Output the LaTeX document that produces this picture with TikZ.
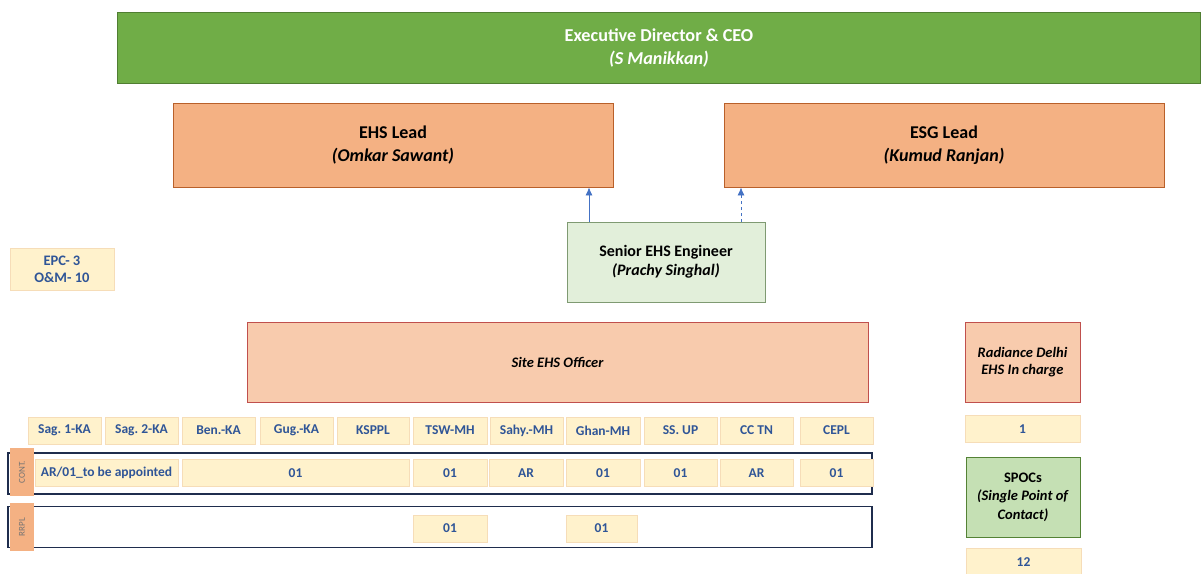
\documentclass[tikz,border=0pt]{standalone}
\usepackage{fontspec}
\setmainfont{Carlito}
\frenchspacing
\usetikzlibrary{arrows.meta}
\definecolor{ceogreen}{HTML}{70AD47}
\definecolor{ceoline}{HTML}{507E32}
\definecolor{leadfill}{HTML}{F4B183}
\definecolor{leadline}{HTML}{B9602A}
\definecolor{sitefill}{HTML}{F8CBAD}
\definecolor{siteline}{HTML}{C0504D}
\definecolor{engfill}{HTML}{E2EFDA}
\definecolor{engline}{HTML}{7F9A72}
\definecolor{spocfill}{HTML}{C5E0B4}
\definecolor{spocline}{HTML}{548235}
\definecolor{cellfill}{HTML}{FFF2CC}
\definecolor{cellline}{HTML}{F6DDB8}
\definecolor{celltext}{HTML}{2F5597}
\definecolor{rowline}{HTML}{1F2D4D}
\definecolor{arrowblue}{HTML}{4472C4}
\tikzset{
  box/.style={rectangle,inner sep=0pt,align=center,line width=0.8pt},
  cell/.style={box,fill=cellfill,draw=cellline,text=celltext,
    font=\fontsize{13.5}{16}\selectfont\bfseries,minimum height=27pt},
  lead/.style={box,fill=leadfill,draw=leadline,
    font=\fontsize{18}{23}\selectfont\bfseries,minimum width=440pt,minimum height=84pt},
  site/.style={box,fill=sitefill,draw=siteline,
    font=\fontsize{14.5}{17}\selectfont\bfseries\itshape,minimum height=80pt},
  rowframe/.style={rectangle,draw=rowline,line width=1.6pt,minimum width=864pt,minimum height=41pt},
  rowtab/.style={box,fill=leadfill,minimum width=48pt,minimum height=24pt,
    text=black!55,font=\fontsize{9}{10}\selectfont,rotate=90},
  up/.style={-{Latex[length=8pt,width=7pt]},arrowblue,line width=0.8pt}
}
\begin{document}
\begin{tikzpicture}[x=1pt,y=-1pt]
  \useasboundingbox (0,0) rectangle (1204,573);

  % top of the chart
  \node[box,fill=ceogreen,draw=ceoline,text=white,font=\fontsize{18.2}{23}\selectfont\bfseries,
    minimum width=1083pt,minimum height=71pt] (ceo) at (659,47.5)
    {Executive Director \& CEO\\ \textit{(S Manikkan)}};
  \node[lead] (ehs) at (393,145) {EHS Lead\\ \textit{(Omkar Sawant)}};
  \node[lead] (esg) at (944,145) {ESG Lead\\ \textit{(Kumud Ranjan)}};
  \node[box,fill=engfill,draw=engline,font=\fontsize{16}{19}\selectfont\bfseries,
    minimum width=198pt,minimum height=80pt] (eng) at (666,262)
    {Senior EHS Engineer\\ \textit{(Prachy Singhal)}};

  \coordinate (engl) at (589,222);
  \coordinate (engr) at (741,222);
  \draw[up] (engl) -- (engl |- ehs.south);
  \draw[up,dashed] (engr) -- (engr |- esg.south);

  \node[cell,minimum width=104pt,minimum height=42pt,font=\fontsize{14.5}{17}\selectfont\bfseries]
    (epc) at (62,269) {EPC- 3\\ O\&M- 10};

  % site level
  \node[site,minimum width=621pt] (officer) at (557.5,362) {Site EHS Officer};
  \node[site,minimum width=115pt] (delhi) at (1022.5,362) {Radiance Delhi\\ EHS In charge};
  \node[cell,minimum width=115pt] (delhin) at (1022.5,429) {1};
  \node[box,fill=spocfill,draw=spocline,font=\fontsize{14.5}{18.5}\selectfont\bfseries,
    minimum width=114pt,minimum height=80pt] (spoc) at (1023,497)
    {SPOCs\\ \textit{(Single Point of}\\ \textit{Contact)}};
  \node[cell,minimum width=115pt] (spocn) at (1023.5,562) {12};

  % plant names
  \node[cell,minimum width=73pt] (sag1) at (64.5,430.5) {Sag. 1-KA};
  \node[cell,minimum width=73pt] (sag2) at (141.5,430.5) {Sag. 2-KA};
  \node[cell,minimum width=73pt] (ben)  at (218.5,430.5) {Ben.-KA};
  \node[cell,minimum width=73pt] (gug)  at (296.5,430.5) {Gug.-KA};
  \node[cell,minimum width=72pt] (ksppl) at (373,430.5) {KSPPL};
  \node[cell,minimum width=74pt] (tsw)  at (450,430.5) {TSW-MH};
  \node[cell,minimum width=73pt] (sahy) at (526.5,430.5) {Sahy.-MH};
  \node[cell,minimum width=74pt] (ghan) at (603,430.5) {Ghan-MH};
  \node[cell,minimum width=73pt] (ssup) at (680.5,430.5) {SS. UP};
  \node[cell,minimum width=73pt] (cctn) at (756.5,430.5) {CC TN};
  \node[cell,minimum width=73pt] (cepl) at (836.5,430.5) {CEPL};

  % contract row
  \node[rowframe] (cont) at (440,473.5) {};
  \node[rowtab] (conttab) at (22,472) {CONT.};
  \node[cell,minimum width=143pt] (c1) at (106.5,473) {AR/01\_to be appointed};
  \node[cell,minimum width=227pt] (c2) at (295.5,473) {01};
  \node[cell,minimum width=74pt] (c3) at (450,473) {01};
  \node[cell,minimum width=74pt] (c4) at (526,473) {AR};
  \node[cell,minimum width=74pt] (c5) at (603,473) {01};
  \node[cell,minimum width=73pt] (c6) at (680.5,473) {01};
  \node[cell,minimum width=73pt] (c7) at (756.5,473) {AR};
  \node[cell,minimum width=73pt] (c8) at (836.5,473) {01};

  % rrpl row
  \node[rowframe] (rrpl) at (440,527) {};
  \node[rowtab] (rrpltab) at (22,527) {RRPL};
  \node[cell,minimum width=74pt] (r1) at (450,528.5) {01};
  \node[cell,minimum width=71pt] (r2) at (601.5,528.5) {01};

\end{tikzpicture}
\end{document}
